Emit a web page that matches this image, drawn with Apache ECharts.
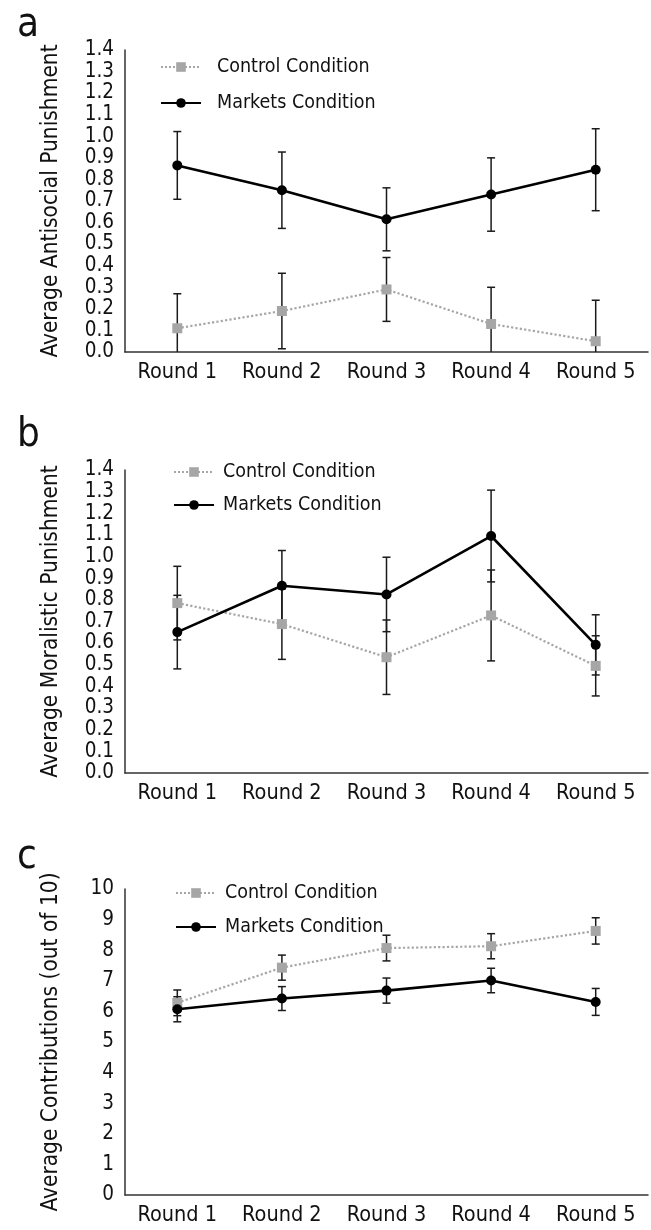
<!DOCTYPE html>
<html>
<head>
<meta charset="utf-8">
<script src="https://cdn.jsdelivr.net/npm/echarts@6/dist/echarts.min.js"></script>
<style>
html,body{margin:0;padding:0;background:#fff;}
#chart{width:651px;height:1230px;}
</style>
</head>
<body>
<div id="chart"></div>
<script>
const categories = ['Round 1', 'Round 2', 'Round 3', 'Round 4', 'Round 5'];
const seriesNames = ['Control Condition', 'Markets Condition'];
const panelLetters = ['a', 'b', 'c'];
const yNames = ['Average Antisocial Punishment', 'Average Moralistic Punishment', 'Average Contributions (out of 10)'];

// Panel a: antisocial punishment
const aControl = [0.11, 0.19, 0.29, 0.13, 0.05];
const aControlErr = [0.16, 0.175, 0.148, 0.17, 0.19];
const aMarkets = [0.865, 0.75, 0.615, 0.73, 0.845];
const aMarketsErr = [0.157, 0.177, 0.146, 0.17, 0.19];

// Panel b: moralistic punishment
const bControl = [0.785, 0.688, 0.535, 0.728, 0.495];
const bControlErr = [0.17, 0.163, 0.172, 0.21, 0.139];
const bMarkets = [0.651, 0.865, 0.825, 1.095, 0.592];
const bMarketsErr = [0.17, 0.163, 0.172, 0.212, 0.139];

// Panel c: contributions
const cControl = [6.28, 7.43, 8.07, 8.13, 8.63];
const cControlErr = [0.42, 0.41, 0.42, 0.41, 0.43];
const cMarkets = [6.07, 6.42, 6.68, 7.01, 6.31];
const cMarketsErr = [0.41, 0.39, 0.41, 0.40, 0.44];

const yMins = [0, 0, 0];
const yMaxs = [1.4, 1.4, 10];
const yIntervals = [0.1, 0.1, 1];
const yDecimals = [1, 1, 0];

const FONT = '"Liberation Sans Narrow", "DejaVu Sans Condensed", "Arial Narrow", sans-serif';
const GRAY = '#a6a6a6';
const BLACK = '#000';

const panels = [
  {control: aControl, controlErr: aControlErr, markets: aMarkets, marketsErr: aMarketsErr},
  {control: bControl, controlErr: bControlErr, markets: bMarkets, marketsErr: bMarketsErr},
  {control: cControl, controlErr: cControlErr, markets: cMarkets, marketsErr: cMarketsErr}
];

const gridLayout = [
  {top: 50, height: 302},
  {top: 470, height: 303},
  {top: 889, height: 306}
];
const legendLayout = [
  {left: 160, rows: [67, 103], pad: 11},
  {left: 173, rows: [472, 505], pad: 4},
  {left: 175, rows: [893, 927], pad: 4}
];
const letterTops = [1, 411, 833];

function errorData(vals, errs) {
  return vals.map((v, i) => [i, v - errs[i], v + errs[i]]);
}

function renderErr(params, api) {
  const cs = params.coordSys;
  const x = api.value(0);
  const lo = api.coord([x, api.value(1)]);
  const hi = api.coord([x, api.value(2)]);
  const bottom = cs.y + cs.height;
  const top = cs.y;
  const half = 4;
  const style = {stroke: '#1a1a1a', lineWidth: 1.5};
  const children = [];
  let y1 = hi[1], y2 = lo[1];
  const capTop = y1 >= top;
  const capBot = y2 <= bottom;
  y1 = Math.max(y1, top);
  y2 = Math.min(y2, bottom);
  children.push({type: 'line', shape: {x1: lo[0], y1: y1, x2: lo[0], y2: y2}, style: style});
  if (capTop) children.push({type: 'line', shape: {x1: lo[0] - half, y1: y1, x2: lo[0] + half, y2: y1}, style: style});
  if (capBot) children.push({type: 'line', shape: {x1: lo[0] - half, y1: y2, x2: lo[0] + half, y2: y2}, style: style});
  return {type: 'group', children: children};
}

const grids = [], xAxes = [], yAxes = [], series = [], legends = [], titles = [];

panels.forEach((p, k) => {
  grids.push({left: 125, right: 3, top: gridLayout[k].top, height: gridLayout[k].height, containLabel: false});
  xAxes.push({
    type: 'category', gridIndex: k, data: categories, boundaryGap: true,
    axisLine: {lineStyle: {color: '#333', width: 1.5}},
    axisTick: {show: false},
    axisLabel: {color: '#111', fontSize: 21.5, fontFamily: FONT, margin: 9, interval: 0}
  });
  yAxes.push({
    type: 'value', gridIndex: k, min: yMins[k], max: yMaxs[k], interval: yIntervals[k],
    name: yNames[k], nameLocation: 'middle', nameGap: 62,
    nameTextStyle: {color: '#111', fontSize: 22.5, fontFamily: FONT},
    axisLine: {show: true, lineStyle: {color: '#333', width: 1.5}},
    axisTick: {show: false},
    splitLine: {show: false},
    axisLabel: {color: '#111', fontSize: 20.5, fontFamily: FONT, margin: 11,
      showMinLabel: true, showMaxLabel: true,
      formatter: v => v.toFixed(yDecimals[k])}
  });
  series.push({
    type: 'custom', name: 'err-control-' + k, xAxisIndex: k, yAxisIndex: k,
    renderItem: renderErr, data: errorData(p.control, p.controlErr),
    encode: {x: 0, y: [1, 2]}, z: 1, silent: true
  });
  series.push({
    type: 'custom', name: 'err-markets-' + k, xAxisIndex: k, yAxisIndex: k,
    renderItem: renderErr, data: errorData(p.markets, p.marketsErr),
    encode: {x: 0, y: [1, 2]}, z: 1, silent: true
  });
  series.push({
    type: 'line', name: seriesNames[0], xAxisIndex: k, yAxisIndex: k,
    data: p.control, symbol: 'rect', symbolSize: 10, showAllSymbol: true,
    lineStyle: {color: GRAY, width: 2.2, type: 'dotted'},
    itemStyle: {color: GRAY}, z: 3, animation: false
  });
  series.push({
    type: 'line', name: seriesNames[1], xAxisIndex: k, yAxisIndex: k,
    data: p.markets, symbol: 'circle', symbolSize: 10, showAllSymbol: true,
    lineStyle: {color: BLACK, width: 2.6},
    itemStyle: {color: BLACK}, z: 4, animation: false
  });
  seriesNames.forEach((nm, r) => {
    legends.push({
      data: [nm], orient: 'vertical', left: legendLayout[k].left,
      top: legendLayout[k].rows[r] - 13, padding: 0,
      itemWidth: 40, itemHeight: 12,
      textStyle: {color: '#111', fontSize: 19.5, fontFamily: FONT, lineHeight: 26,
        padding: [0, 0, 0, legendLayout[k].pad]},
      selectedMode: false
    });
  });
  titles.push({
    text: panelLetters[k], left: 12, top: letterTops[k],
    textStyle: {color: '#111', fontSize: 40, fontWeight: 'normal', fontFamily: FONT}
  });
});

const chart = echarts.init(document.getElementById('chart'), null, {renderer: 'canvas'});
chart.setOption({
  animation: false,
  backgroundColor: '#fff',
  title: titles,
  grid: grids,
  xAxis: xAxes,
  yAxis: yAxes,
  legend: legends,
  series: series
});
</script>
</body>
</html>
